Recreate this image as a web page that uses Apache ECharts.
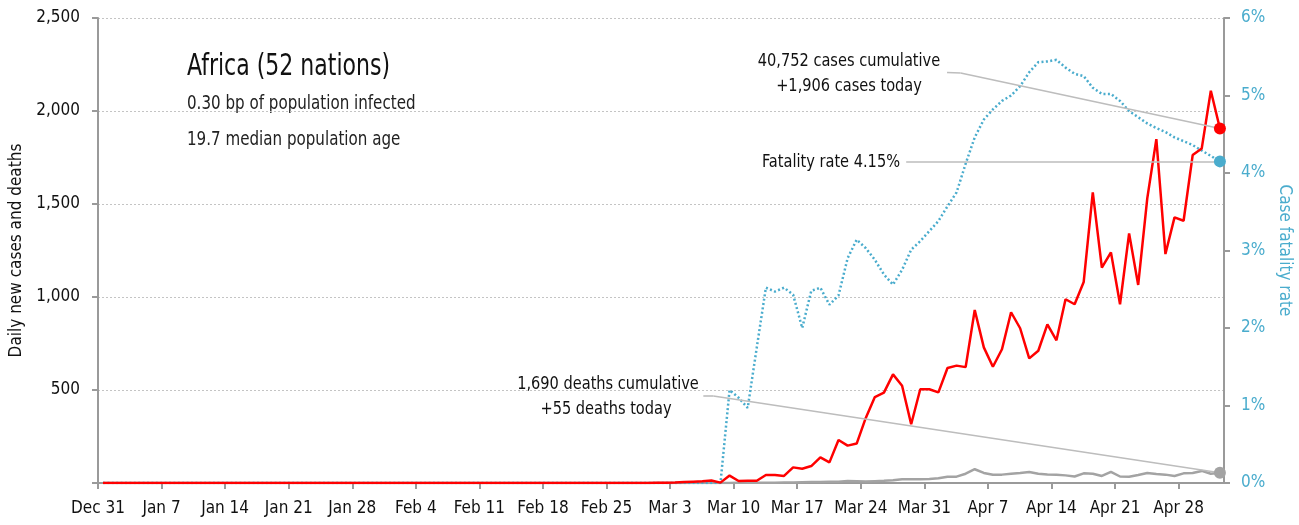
<!DOCTYPE html>
<html>
<head>
<meta charset="utf-8">
<title>Africa (52 nations)</title>
<script src="https://cdn.jsdelivr.net/npm/echarts@6/dist/echarts.min.js"></script>
<style>
    html, body { margin: 0; padding: 0; background: #fff; }
    #chart { width: 1299px; height: 525px; }
</style>
</head>
<body>
<div id="chart"></div>
<script>
    // days since Dec 31, one value per day up to May 2
    const tickLabels = ['Dec 31', 'Jan 7', 'Jan 14', 'Jan 21', 'Jan 28', 'Feb 4', 'Feb 11', 'Feb 18', 'Feb 25',
        'Mar 3', 'Mar 10', 'Mar 17', 'Mar 24', 'Mar 31', 'Apr 7', 'Apr 14', 'Apr 21', 'Apr 28'];

    const newCases = [
        0, 0, 0, 0, 0, 0, 0, 0, 0, 0, 0, 0, 0, 0, 0, 0, 0, 0, 0, 0,
        0, 0, 0, 0, 0, 0, 0, 0, 0, 0, 0, 0, 0, 0, 0, 0, 0, 0, 0, 0,
        0, 0, 0, 0, 0, 0, 0, 0, 0, 0, 0, 0, 0, 0, 0, 0, 0, 0, 0, 0,
        0, 1, 2, 3, 5, 7, 9, 13, 2, 40, 11, 12, 12, 43, 43, 38, 84, 77, 91, 138,
        111, 231, 201, 212, 350, 462, 486, 584, 523, 316, 504, 504, 487, 618, 631, 623, 930, 729, 625, 719,
        918, 832, 670, 711, 853, 767, 988, 961, 1081, 1563, 1158, 1240, 961, 1342, 1065, 1530, 1849, 1231, 1428, 1410,
        1763, 1799, 2109, 1906
    ];

    const newDeaths = [
        0, 0, 0, 0, 0, 0, 0, 0, 0, 0, 0, 0, 0, 0, 0, 0, 0, 0, 0, 0,
        0, 0, 0, 0, 0, 0, 0, 0, 0, 0, 0, 0, 0, 0, 0, 0, 0, 0, 0, 0,
        0, 0, 0, 0, 0, 0, 0, 0, 0, 0, 0, 0, 0, 0, 0, 0, 0, 0, 0, 0,
        0, 0, 0, 0, 0, 0, 0, 0, 0, 0, 1, 1, 1, 2, 2, 3, 3, 4, 5, 5,
        7, 7, 11, 10, 8, 10, 12, 15, 20, 20, 20, 22, 25, 34, 34, 50, 74, 54, 44, 45,
        50, 54, 59, 50, 46, 45, 41, 35, 52, 50, 38, 60, 35, 34, 43, 54, 48, 45, 38, 52,
        54, 65, 50, 55
    ];

    // case fatality rate, %
    const fatalityRate = [
        0, 0, 0, 0, 0, 0, 0, 0, 0, 0, 0, 0, 0, 0, 0, 0, 0, 0, 0, 0,
        0, 0, 0, 0, 0, 0, 0, 0, 0, 0, 0, 0, 0, 0, 0, 0, 0, 0, 0, 0,
        0, 0, 0, 0, 0, 0, 0, 0, 0, 0, 0, 0, 0, 0, 0, 0, 0, 0, 0, 0,
        0, 0, 0, 0, 0, 0, 0, 0, 0, 1.2, 1.1, 0.97, 1.75, 2.52, 2.47, 2.52, 2.43, 2.0, 2.48, 2.52,
        2.30, 2.42, 2.9, 3.14, 3.03, 2.88, 2.69, 2.56, 2.75, 3.01, 3.12, 3.25, 3.38, 3.57, 3.75, 4.12, 4.46, 4.69, 4.82, 4.93,
        5.0, 5.12, 5.30, 5.43, 5.44, 5.46, 5.36, 5.28, 5.25, 5.10, 5.02, 5.02, 4.93, 4.80, 4.72, 4.64, 4.58, 4.53, 4.46, 4.41,
        4.36, 4.29, 4.22, 4.15
    ];

    // leader line anchors, in axis units [day, value]
    const casesLeader = [[93.5, 2207], [95.0, 2204]];
    const deathsLeader = [[66.66, 468], [67.76, 468]];
    const rateLeader = [[89.0, 4.15]];

    const pointOffset = 0.55; // daily points sit a little after the tick
    const FONT = "'DejaVu Sans Condensed', 'Liberation Sans Narrow', sans-serif";
    const RED = '#ff0000', GREY = '#a3a3a3', BLUE = '#4aaccd', LEADER = '#bdbdbd';

    const toXY = arr => arr.map((v, i) => [i + pointOffset, v]);
    const last = arr => [arr.length - 1 + pointOffset, arr[arr.length - 1]];

    function leader(points, end) {
        const pts = points.concat([end]);
        const segs = [];
        for (let i = 0; i < pts.length - 1; i++) {
            segs.push([{coord: pts[i]}, {coord: pts[i + 1]}]);
        }
        return {
            silent: true,
            symbol: ['none', 'none'],
            label: {show: false},
            lineStyle: {color: LEADER, width: 1.6, type: 'solid'},
            data: segs
        };
    }

    function endDot(arr, color) {
        return {
            silent: true,
            symbol: 'circle',
            symbolSize: 12,
            label: {show: false},
            itemStyle: {color: color},
            data: [{coord: last(arr)}]
        };
    }

    // condensed look: text squeezed horizontally around its anchor
    function note(text, x, y, size, sx, align, color) {
        return {
            type: 'text', x: x, y: y, scaleX: sx,
            style: {text: text, font: size + 'px ' + FONT, fill: color || '#111', align: align, verticalAlign: 'middle'}
        };
    }

    const tickStyle = {show: true, length: 6, lineStyle: {color: '#9a9a9a', width: 2}};

    const option = {
        animation: false,
        textStyle: {fontFamily: FONT},
        grid: {left: 98, right: 75, top: 18, bottom: 42, outerBoundsMode: 'none', containLabel: false},
        xAxis: {
            type: 'value',
            min: 0,
            max: 124,
            interval: 7,
            axisLine: {lineStyle: {color: '#9a9a9a', width: 2}},
            axisTick: tickStyle,
            splitLine: {show: false},
            axisLabel: {
                margin: 17,
                color: '#111',
                fontSize: 17,
                fontFamily: FONT,
                showMaxLabel: false,
                formatter: v => tickLabels[v / 7] || ''
            }
        },
        yAxis: [
            {
                type: 'value',
                min: 0,
                max: 2500,
                interval: 500,
                position: 'left',
                name: 'Daily new cases and deaths',
                nameLocation: 'middle',
                nameGap: 72,
                nameTextStyle: {color: '#111', fontSize: 17, fontFamily: FONT},
                axisLine: {show: true, lineStyle: {color: '#9a9a9a', width: 2}},
                axisTick: tickStyle,
                splitLine: {show: true, lineStyle: {color: '#c4c4c4', width: 1, type: [2, 2]}},
                axisLabel: {
                    margin: 18,
                    color: '#111',
                    fontSize: 17,
                    fontFamily: FONT,
                    formatter: v => v === 0 ? '' : v.toLocaleString('en-US')
                }
            },
            {
                type: 'value',
                min: 0,
                max: 6,
                interval: 1,
                position: 'right',
                name: 'Case fatality rate',
                nameLocation: 'middle',
                nameGap: 50,
                nameRotate: -90,
                nameTextStyle: {color: BLUE, fontSize: 17, fontFamily: FONT},
                axisLine: {show: true, lineStyle: {color: '#9a9a9a', width: 2}},
                axisTick: tickStyle,
                splitLine: {show: false},
                axisLabel: {
                    margin: 17,
                    color: BLUE,
                    fontSize: 17,
                    fontFamily: FONT,
                    formatter: v => v + '%'
                }
            }
        ],
        graphic: [
            note('Africa (52 nations)', 187, 67, 31, 0.79, 'left'),
            note('0.30 bp of population infected', 187, 104, 20, 0.84, 'left', '#222'),
            note('19.7 median population age', 187, 140, 20, 0.84, 'left', '#222'),
            note('40,752 cases cumulative', 849, 61, 18, 0.9, 'center'),
            note('+1,906 cases today', 849, 86, 18, 0.9, 'center'),
            note('Fatality rate 4.15%', 900, 162, 18, 0.9, 'right'),
            note('1,690 deaths cumulative', 608, 384, 18, 0.9, 'center'),
            note('+55 deaths today', 606, 409, 18, 0.9, 'center')
        ],
        series: [
            {
                name: 'Case fatality rate',
                type: 'line',
                yAxisIndex: 1,
                data: toXY(fatalityRate),
                showSymbol: false,
                lineStyle: {color: BLUE, width: 2.5, type: [2, 2.4]},
                z: 3,
                markLine: leader(rateLeader, last(fatalityRate)),
                markPoint: endDot(fatalityRate, BLUE)
            },
            {
                name: 'New deaths',
                type: 'line',
                data: toXY(newDeaths),
                showSymbol: false,
                lineStyle: {color: GREY, width: 2.5},
                z: 2,
                markLine: leader(deathsLeader, last(newDeaths)),
                markPoint: endDot(newDeaths, GREY)
            },
            {
                name: 'New cases',
                type: 'line',
                data: toXY(newCases),
                showSymbol: false,
                lineStyle: {color: RED, width: 2.5},
                z: 4,
                markLine: leader(casesLeader, last(newCases)),
                markPoint: endDot(newCases, RED)
            }
        ]
    };

    const chart = echarts.init(document.getElementById('chart'));
    chart.setOption(option, true);
    window.addEventListener('resize', chart.resize);
</script>
</body>
</html>
